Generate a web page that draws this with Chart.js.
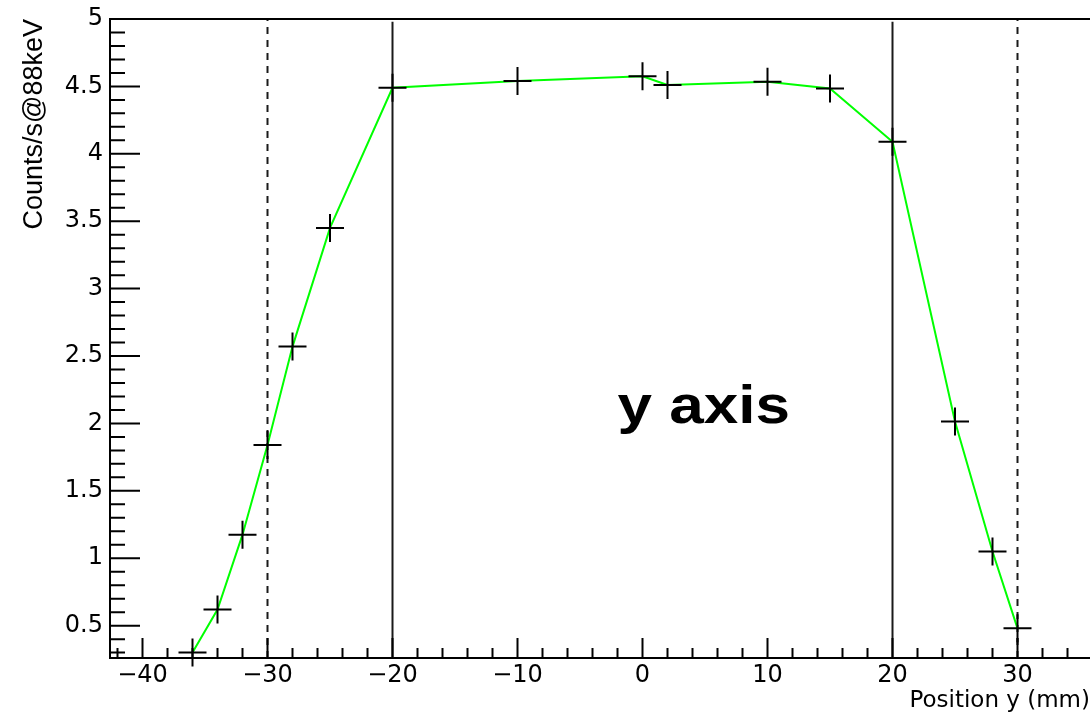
<!DOCTYPE html>
<html>
<head>
<meta charset="utf-8">
<script src="https://cdn.jsdelivr.net/npm/chart.js@4.4.1/dist/chart.umd.min.js"></script>
<style>
    html, body { margin: 0; padding: 0; background: #ffffff; overflow: hidden; }
    #wrap { position: relative; width: 1090px; height: 716px; }
</style>
</head>
<body>
<div id="wrap"><canvas id="chart" width="1090" height="716"></canvas></div>
<script>
// measured points (mm, counts/s)
const positions = [-36, -34, -32, -30, -28, -25, -20, -10, 0, 2, 10, 15, 20, 25, 28, 30];
const counts = [0.30, 0.62, 1.175, 1.84, 2.57, 3.45, 4.49, 4.54, 4.575, 4.51, 4.535, 4.485, 4.09, 2.015, 1.05, 0.48];

const solidGuides = [-20, 20];
const dashedGuides = [-30, 30];

const xTicks = [-40, -30, -20, -10, 0, 10, 20, 30];
const yTicks = [0.5, 1, 1.5, 2, 2.5, 3, 3.5, 4, 4.5, 5];

const X_MIN = -42.6;
const X_MAX = 35.8;
const Y_MIN = 0.26;
const Y_MAX = 5;
const X_MINOR_STEP = 2;
const Y_MINOR_STEP = 0.1;

const annotation = { text: "y axis", x: -2, y: 2 };

Chart.defaults.font.family = "'DejaVu Sans', sans-serif";
Chart.defaults.color = "#000000";

function guideDataset(xValue, top, dashed) {
    return {
        data: [{ x: xValue, y: Y_MIN }, { x: xValue, y: top }],
        showLine: true,
        borderColor: "#1a1a1a",
        borderWidth: 2,
        borderDash: dashed ? [7, 6] : [],
        pointRadius: 0,
        order: 2,
    };
}

// ROOT style ticks drawn inside the frame
const insideTicks = {
    id: "insideTicks",
    afterDatasetsDraw(chart) {
        const { ctx, chartArea, scales } = chart;
        const xs = scales.x;
        const ys = scales.y;
        ctx.save();
        ctx.strokeStyle = "#000000";
        ctx.lineWidth = 2;
        ctx.beginPath();
        for (let v = Math.ceil(X_MIN / X_MINOR_STEP) * X_MINOR_STEP; v <= X_MAX; v += X_MINOR_STEP) {
            const px = xs.getPixelForValue(v);
            const len = v % 10 === 0 ? 20 : 10;
            ctx.moveTo(px, chartArea.bottom);
            ctx.lineTo(px, chartArea.bottom - len);
        }
        const first = Math.ceil(Y_MIN / Y_MINOR_STEP - 1e-6);
        const last = Math.floor(Y_MAX / Y_MINOR_STEP + 1e-6);
        for (let i = first; i <= last; i++) {
            const py = ys.getPixelForValue(i * Y_MINOR_STEP);
            const len = i % 5 === 0 ? 30 : 15;
            ctx.moveTo(chartArea.left, py);
            ctx.lineTo(chartArea.left + len, py);
        }
        // top frame
        ctx.moveTo(chartArea.left, chartArea.top);
        ctx.lineTo(chartArea.right, chartArea.top);
        ctx.stroke();
        ctx.restore();
    },
    afterDraw(chart) {
        const { ctx, scales } = chart;
        const px = scales.x.getPixelForValue(annotation.x);
        const py = scales.y.getPixelForValue(annotation.y);
        ctx.save();
        ctx.translate(px, py);
        ctx.scale(1.17, 1);
        ctx.font = "bold 53px 'Liberation Sans', sans-serif";
        ctx.fillStyle = "#000000";
        ctx.textAlign = "left";
        ctx.textBaseline = "alphabetic";
        ctx.fillText(annotation.text, 0, 0);
        ctx.restore();
    },
};

const context = document.getElementById("chart").getContext("2d");
new Chart(context, {
    type: "scatter",
    data: {
        datasets: [
            {
                data: positions.map((x, i) => ({ x, y: counts[i] })),
                showLine: true,
                borderColor: "#00ff00",
                borderWidth: 2,
                pointStyle: "cross",
                pointRadius: 14,
                pointBorderColor: "#000000",
                pointBorderWidth: 2,
                clip: false,
                order: 0,
            },
            guideDataset(solidGuides[0], 4.98, false),
            guideDataset(solidGuides[1], 4.98, false),
            guideDataset(dashedGuides[0], Y_MAX, true),
            guideDataset(dashedGuides[1], Y_MAX, true),
        ],
    },
    options: {
        responsive: false,
        animation: false,
        devicePixelRatio: 1,
        layout: { autoPadding: false, padding: { top: 19, right: 0, bottom: 0, left: 0 } },
        plugins: {
            legend: { display: false },
            tooltip: { enabled: false },
        },
        scales: {
            x: {
                type: "linear",
                min: X_MIN,
                max: X_MAX,
                afterBuildTicks: (scale) => {
                    scale.ticks = xTicks.map((value) => ({ value }));
                },
                afterFit: (scale) => {
                    scale.height = 58;
                    scale.paddingLeft = 0;
                    scale.paddingRight = 0;
                },
                ticks: {
                    autoSkip: false,
                    maxRotation: 0,
                    padding: 3,
                    font: { size: 24 },
                    callback: (value) => (value < 0 ? "\u2212" + Math.abs(value) : String(value)),
                },
                grid: { display: false, drawTicks: false },
                border: { display: true, color: "#000000", width: 2 },
                title: {
                    display: true,
                    text: "Position y (mm)",
                    align: "end",
                    font: { size: 23 },
                    padding: { top: 0, bottom: 1 },
                },
            },
            y: {
                type: "linear",
                min: Y_MIN,
                max: Y_MAX,
                afterBuildTicks: (scale) => {
                    scale.ticks = yTicks.map((value) => ({ value }));
                },
                afterFit: (scale) => {
                    scale.width = 110;
                    scale.paddingTop = 0;
                    scale.paddingBottom = 0;
                },
                ticks: {
                    autoSkip: false,
                    padding: 7,
                    font: { size: 24 },
                    callback: (value) => String(value),
                },
                grid: { display: false, drawTicks: false },
                border: { display: true, color: "#000000", width: 2 },
                title: {
                    display: true,
                    text: "Counts/s@88keV",
                    align: "end",
                    font: { size: 27, family: "'Liberation Sans', sans-serif" },
                    padding: { top: 18, bottom: 0 },
                },
            },
        },
    },
    plugins: [insideTicks],
});
</script>
</body>
</html>
